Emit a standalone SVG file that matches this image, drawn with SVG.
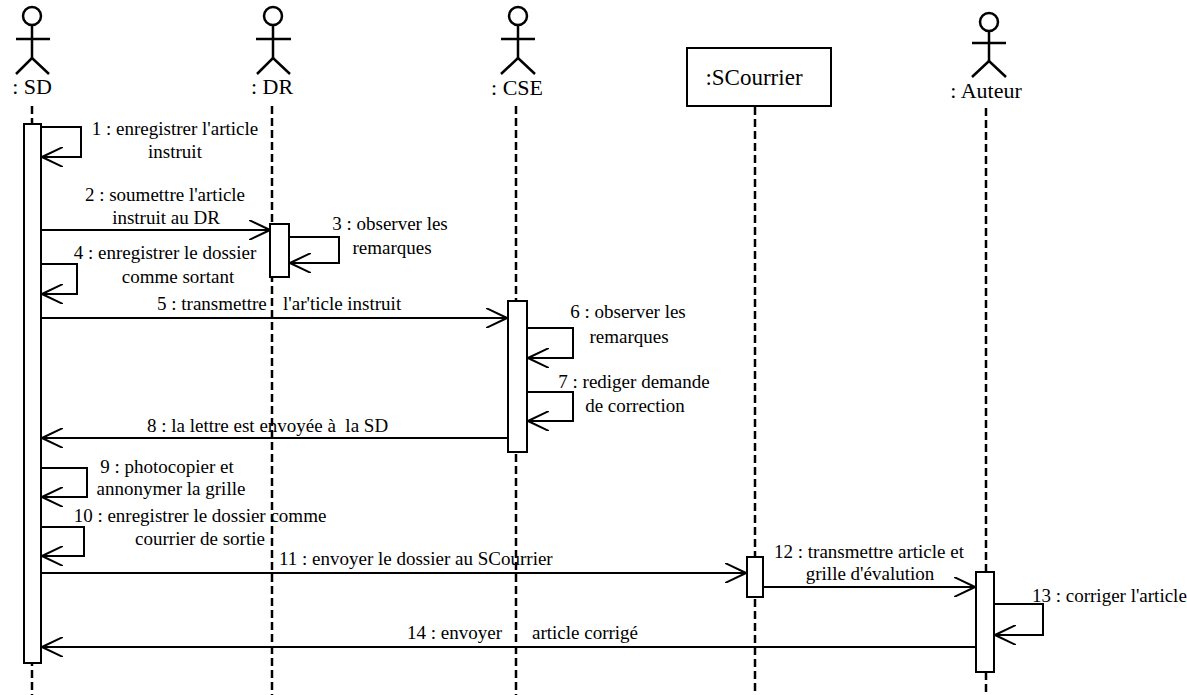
<svg xmlns="http://www.w3.org/2000/svg" width="1187" height="695" viewBox="0 0 1187 695">
<style>
.actor{fill:none;stroke:#000;stroke-width:2.5;stroke-linecap:butt}
.lbl{font-size:22px;fill:#000;text-anchor:middle}
.life{stroke:#000;stroke-width:2.5;stroke-dasharray:8 4;fill:none}
.act{fill:#fff;stroke:#000;stroke-width:2}
.msg{fill:none;stroke:#000;stroke-width:2}
.txt{font-size:19px;fill:#000}
.c{text-anchor:middle}
</style>
<defs>
<marker id="open" viewBox="0 0 22 20" refX="21" refY="10" markerWidth="22" markerHeight="20" markerUnits="userSpaceOnUse" orient="auto">
<path d="M0,0 L21,10 L0,20" fill="none" stroke="#000" stroke-width="2"/>
</marker>
</defs>
<rect width="1187" height="695" fill="#fff"/>

<g id="lifelines">
<line class="life" x1="32" y1="106" x2="32" y2="695"/>
<line class="life" x1="272" y1="106" x2="272" y2="695"/>
<line class="life" x1="516" y1="106" x2="516" y2="695"/>
<line class="life" x1="755" y1="107" x2="755" y2="695"/>
<line class="life" x1="986" y1="108" x2="986" y2="695"/>
</g>

<g font-family="'Liberation Serif', 'Times New Roman', 'DejaVu Serif', serif">
<g id="node-sd">
<circle class="actor" cx="32" cy="16" r="9"/>
<line class="actor" x1="16" y1="39" x2="50" y2="39"/>
<polyline class="actor" points="32,25 32,58"/>
<polyline class="actor" points="16,74 32,58 49,74"/>
<text class="lbl" x="32" y="94">: SD</text>
<rect class="act" x="24" y="124" width="17" height="539"/>
</g>

<g id="node-dr">
<circle class="actor" cx="273" cy="16" r="9"/>
<line class="actor" x1="256" y1="39" x2="291" y2="39"/>
<polyline class="actor" points="273,25 273,58"/>
<polyline class="actor" points="257,74 273,58 290,74"/>
<text class="lbl" x="272" y="94">: DR</text>
<rect class="act" x="270" y="224" width="19" height="53"/>
</g>

<g id="node-cse">
<circle class="actor" cx="518" cy="16" r="9"/>
<line class="actor" x1="501" y1="39" x2="535" y2="39"/>
<polyline class="actor" points="518,25 518,58"/>
<polyline class="actor" points="501,74 518,58 535,74"/>
<text class="lbl" x="517" y="95">: CSE</text>
<rect class="act" x="508" y="301" width="19" height="151"/>
</g>

<g id="node-scourrier">
<rect x="687" y="48" width="144" height="58" fill="#fff" stroke="#000" stroke-width="2"/>
<text class="lbl" x="754" y="85" style="font-size:23px">:SCourrier</text>
<rect class="act" x="747" y="557" width="16" height="40"/>
</g>

<g id="node-auteur">
<circle class="actor" cx="989" cy="22" r="9"/>
<line class="actor" x1="972" y1="43" x2="1006" y2="43"/>
<polyline class="actor" points="989,31 989,61"/>
<polyline class="actor" points="972,77 989,61 1006,77"/>
<text class="lbl" x="986" y="98">: Auteur</text>
<rect class="act" x="976" y="572" width="18" height="100"/>
</g>

<g id="connectors">
<polyline class="msg" points="41,127 81,127 81,157 42,157" marker-end="url(#open)"/>
<text class="txt c" x="175" y="135">1 : enregistrer l'article</text>
<text class="txt c" x="175" y="158">instruit</text>
<line class="msg" x1="41" y1="230" x2="270" y2="230" marker-end="url(#open)"/>
<text class="txt c" x="165" y="201">2 : soumettre l'article</text>
<text class="txt c" x="166" y="224">instruit au DR</text>
<polyline class="msg" points="289,237 339,237 339,263 290,263" marker-end="url(#open)"/>
<text class="txt c" x="390" y="230">3 : observer les</text>
<text class="txt c" x="392" y="254">remarques</text>
<polyline class="msg" points="41,264 77,264 77,294 42,294" marker-end="url(#open)"/>
<text class="txt c" x="165" y="259">4 : enregistrer le dossier</text>
<text class="txt c" x="178" y="283">comme sortant</text>
<line class="msg" x1="41" y1="318" x2="507" y2="318" marker-end="url(#open)"/>
<text class="txt" x="157" y="310">5 : transmettre<tspan x="283">l'ar'ticle instruit</tspan></text>
<polyline class="msg" points="527,328 573,328 573,358 528,358" marker-end="url(#open)"/>
<text class="txt c" x="628" y="318">6 : observer les</text>
<text class="txt c" x="629" y="343">remarques</text>
<polyline class="msg" points="527,392 573,392 573,421 528,421" marker-end="url(#open)"/>
<text class="txt c" x="634" y="388">7 : rediger demande</text>
<text class="txt c" x="635" y="412">de correction</text>
<line class="msg" x1="508" y1="438" x2="42" y2="438" marker-end="url(#open)"/>
<text class="txt" x="147" y="432" xml:space="preserve">8 : la lettre est envoyée à  la SD</text>
<polyline class="msg" points="41,468 87,468 87,497 42,497" marker-end="url(#open)"/>
<text class="txt c" x="167" y="473">9 : photocopier et</text>
<text class="txt c" x="171" y="495">annonymer la grille</text>
<polyline class="msg" points="41,527 84,527 84,556 42,556" marker-end="url(#open)"/>
<text class="txt c" x="200" y="522">10 : enregistrer le dossier comme</text>
<text class="txt c" x="200" y="545">courrier de sortie</text>
<line class="msg" x1="41" y1="573" x2="746" y2="573" marker-end="url(#open)"/>
<text class="txt" x="279" y="565">11 : envoyer le dossier au SCourrier</text>
<line class="msg" x1="763" y1="587" x2="975" y2="587" marker-end="url(#open)"/>
<text class="txt c" x="869" y="558">12 : transmettre article et</text>
<text class="txt c" x="870" y="580">grille d'évalution</text>
<polyline class="msg" points="994,604 1043,604 1043,635 995,635" marker-end="url(#open)"/>
<text class="txt" x="1032" y="602">13 : corriger l'article</text>
<line class="msg" x1="976" y1="647" x2="42" y2="647" marker-end="url(#open)"/>
<text class="txt" x="407" y="639">14 : envoyer<tspan x="532">article corrigé</tspan></text>
</g>
</g>
</svg>
